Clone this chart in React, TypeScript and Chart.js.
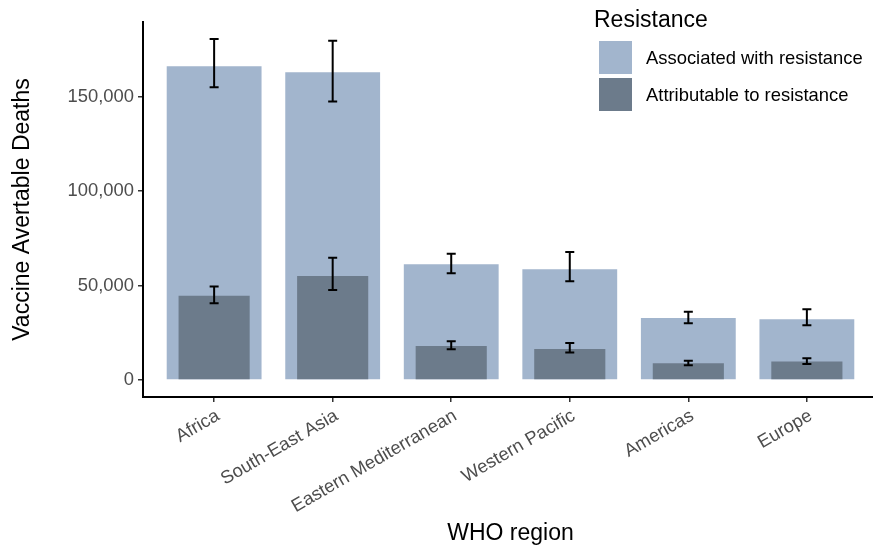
import React, { useEffect, useRef } from "react";
import { Chart, registerables } from "chart.js";

Chart.register(...registerables);

const categories = [
  "Africa",
  "South-East Asia",
  "Eastern Mediterranean",
  "Western Pacific",
  "Americas",
  "Europe",
];
const associated = [166000, 162800, 61200, 58600, 32800, 32100];
const associatedLow = [154900, 147400, 56400, 52200, 30000, 28900];
const associatedHigh = [180400, 179500, 66800, 67700, 36100, 37400];
const attributable = [44600, 55000, 18000, 16400, 8800, 9700];
const attributableLow = [40600, 47600, 16200, 14500, 7800, 8500];
const attributableHigh = [49400, 64700, 20500, 19600, 10200, 11500];
const yTickValues = [0, 50000, 100000, 150000];
const seriesLabels = ["Associated with resistance", "Attributable to resistance"];
const legendTitle = "Resistance";

const FONT = "'Liberation Sans', Arial, Helvetica, sans-serif";
const LIGHT = "#A2B5CD";
const DARK = "#6C7B8B";

const yDataMax = Math.max(...associatedHigh, ...attributableHigh);
const yPad = yDataMax * 0.05;

const errorBarPlugin = {
  id: "errorBars",
  afterDatasetsDraw(chart: any) {
    const ctx = chart.ctx;
    const xs = chart.scales.x;
    const ys = chart.scales.y;
    const sets = [
      [associatedLow, associatedHigh],
      [attributableLow, attributableHigh],
    ];
    ctx.save();
    ctx.strokeStyle = "#000";
    ctx.lineWidth = 2;
    sets.forEach(([lo, hi]) => {
      categories.forEach((_, i) => {
        const x = xs.getPixelForValue(i);
        const half = xs.getPixelForValue(i + 0.038) - x;
        const y1 = ys.getPixelForValue(lo[i]);
        const y2 = ys.getPixelForValue(hi[i]);
        ctx.beginPath();
        ctx.moveTo(x, y1);
        ctx.lineTo(x, y2);
        ctx.moveTo(x - half, y1);
        ctx.lineTo(x + half, y1);
        ctx.moveTo(x - half, y2);
        ctx.lineTo(x + half, y2);
        ctx.stroke();
      });
    });
    ctx.restore();
  },
};

const legendPlugin = {
  id: "customLegend",
  afterDraw(chart: any) {
    const ctx = chart.ctx;
    ctx.save();
    ctx.fillStyle = "#000";
    ctx.font = `23px ${FONT}`;
    ctx.textAlign = "left";
    ctx.textBaseline = "alphabetic";
    ctx.fillText(legendTitle, 594, 27);
    const key = 33;
    chart.data.datasets.forEach((ds: any, i: number) => {
      const y = 41 + i * 37;
      ctx.fillStyle = ds.backgroundColor;
      ctx.fillRect(599, y, key, key);
      ctx.fillStyle = "#000";
      ctx.font = `18.4px ${FONT}`;
      ctx.textBaseline = "middle";
      ctx.fillText(ds.label, 646, y + key / 2 + 1);
    });
    ctx.restore();
  },
};

export default function App() {
  const ref = useRef<HTMLCanvasElement>(null);
  useEffect(() => {
    if (!ref.current) return;
    const chart = new Chart(ref.current, {
      type: "bar",
      data: {
        datasets: [
          {
            label: seriesLabels[0],
            data: associated.map((v, i) => ({ x: i, y: v })),
            backgroundColor: LIGHT,
            grouped: false,
            categoryPercentage: 1,
            barPercentage: 0.8,
            order: 2,
          } as any,
          {
            label: seriesLabels[1],
            data: attributable.map((v, i) => ({ x: i, y: v })),
            backgroundColor: DARK,
            grouped: false,
            categoryPercentage: 1,
            barPercentage: 0.6,
            order: 1,
          } as any,
        ],
      },
      options: {
        animation: false,
        responsive: false,
        layout: { padding: { top: 22, right: 2, left: 0, bottom: 0 } },
        plugins: { legend: { display: false }, tooltip: { enabled: false } },
        scales: {
          x: {
            type: "linear",
            offset: false,
            min: -0.6,
            max: categories.length - 0.4,
            afterBuildTicks: (s: any) => {
              s.ticks = categories.map((_, i) => ({ value: i }));
            },
            afterFit: (s: any) => {
              s.height = 152;
            },
            ticks: {
              callback: (v: any) => categories[v as number] ?? "",
              minRotation: 30,
              maxRotation: 30,
              autoSkip: false,
              color: "#4d4d4d",
              font: { family: FONT, size: 18.4 },
              padding: 3,
              labelOffset: 4,
            },
            grid: {
              offset: false,
              drawOnChartArea: false,
              drawTicks: true,
              tickLength: 5,
              color: "#333",
              lineWidth: 1.5,
            },
            border: { display: true, color: "#000", width: 2 },
            title: {
              display: true,
              text: "WHO region",
              color: "#000",
              font: { family: FONT, size: 23 },
              padding: { bottom: 2, top: 0 },
            },
          },
          y: {
            type: "linear",
            min: -yPad,
            max: yDataMax + yPad,
            afterBuildTicks: (s: any) => {
              s.ticks = yTickValues.map((v) => ({ value: v }));
            },
            afterFit: (s: any) => {
              s.width = 143;
            },
            ticks: {
              callback: (v: any) => Number(v).toLocaleString("en-US"),
              color: "#4d4d4d",
              font: { family: FONT, size: 18.4 },
              padding: 4,
            },
            grid: {
              drawOnChartArea: false,
              drawTicks: true,
              tickLength: 5,
              color: "#333",
              lineWidth: 1.5,
            },
            border: { display: true, color: "#000", width: 2 },
            title: {
              display: true,
              text: "Vaccine Avertable Deaths",
              color: "#000",
              font: { family: FONT, size: 23 },
              padding: { top: 9, bottom: 0 },
            },
          },
        },
      },
      plugins: [errorBarPlugin, legendPlugin],
    });
    return () => chart.destroy();
  }, []);

  return (
    <div
      style={{
        position: "fixed",
        left: 0,
        top: 0,
        width: 873,
        height: 549,
        overflow: "hidden",
        background: "#fff",
      }}
    >
      <canvas ref={ref} width={880} height={549} style={{ display: "block" }} />
    </div>
  );
}
